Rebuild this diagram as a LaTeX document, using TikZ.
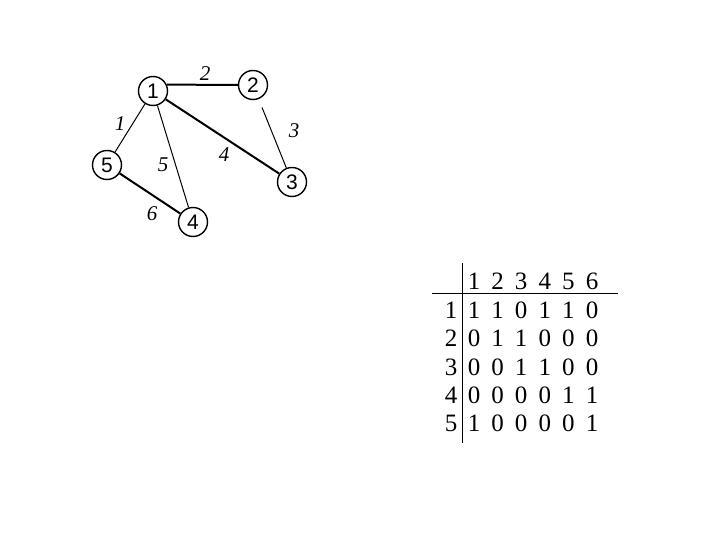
\documentclass[tikz,border=0pt]{standalone}
\usepackage{fontspec}
\setmainfont{Liberation Serif}
\newfontfamily\arialf{Liberation Sans}
\begin{document}
\begin{tikzpicture}[x=1pt,y=-1pt,
 vtx/.style={circle,draw,line width=1.4pt,minimum size=29pt,inner sep=0pt,font=\arialf\fontsize{21}{21}\selectfont},
 thinedge/.style={line width=1pt},
 thickedge/.style={line width=2pt},
 elabel/.style={font=\itshape\fontsize{21}{21}\selectfont,inner sep=0pt},
 cell/.style={font=\fontsize{25}{25}\selectfont,inner sep=0pt}]
\useasboundingbox (0,0) rectangle (720,540);
% vertices
\node[vtx] (n1) at (153,91) {1};
\node[vtx] (n2) at (253,85) {2};
\node[vtx] (n3) at (292,182) {3};
\node[vtx] (n4) at (193,222) {4};
\node[vtx] (n5) at (107,165) {5};
% edges
\draw[thickedge] (n1.25) -- (n2.west);
\draw[thinedge, shorten <=9pt] (n2) -- (n3);
\draw[thickedge] (n1) -- (n3);
\draw[thinedge] (n1) -- (n4);
\draw[thinedge] (n1) -- (n5);
\draw[thickedge] (n5) -- (n4);
% edge labels
\node[elabel] (l2) at (205,74) {2};
\node[elabel] (l1) at (120,124) {1};
\node[elabel] (l3) at (294,131) {3};
\node[elabel] (l4) at (224,155) {4};
\node[elabel] (l5) at (163,165) {5};
\node[elabel] (l6) at (152,214) {6};
% table lines
\coordinate (vt) at (462,263);
\coordinate (vb) at (462,443);
\coordinate (hl) at (432,293);
\coordinate (hr) at (618,293);
\draw[line width=1pt] (vt) -- (vb);
\draw[line width=1pt] (hl) -- (hr);
% header
\foreach \j in {1,...,6} {
  \node[cell] (h\j) at ({474+23.6*(\j-1)},281) {\j};
}
% rows
\foreach \i/\row in {1/{1,1,0,1,1,0},2/{0,1,1,0,0,0},3/{0,0,1,1,0,0},4/{0,0,0,0,1,1},5/{1,0,0,0,0,1}} {
  \node[cell] (r\i) at (451,{282+28.3*\i}) {\i};
  \foreach \v [count=\j] in \row {
    \node[cell] (c\i\j) at ({474+23.6*(\j-1)},{282+28.3*\i}) {\v};
  }
}
\end{tikzpicture}
\end{document}
